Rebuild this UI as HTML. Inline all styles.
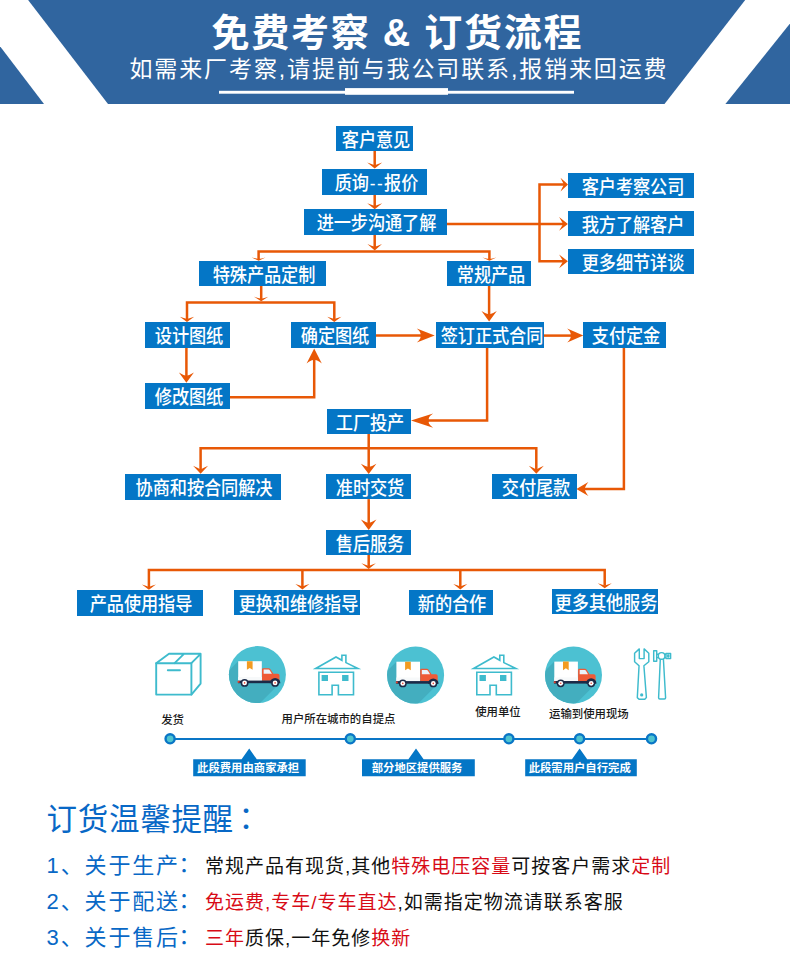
<!DOCTYPE html>
<html lang="zh-CN"><head><meta charset="utf-8"><title>免费考察 &amp; 订货流程</title>
<style>
html,body{margin:0;padding:0;background:#fff}
body{width:790px;height:961px;position:relative;overflow:hidden;font-family:"Liberation Sans","Noto Sans CJK SC",sans-serif}
#bg{position:absolute;left:0;top:0}
.h1{position:absolute;left:2.3px;width:790px;top:9px;text-align:center;color:#fff;font-weight:bold;font-size:38px;line-height:48px;letter-spacing:1.75px;white-space:nowrap}
.h2{position:absolute;left:0;width:798px;top:53.5px;text-align:center;color:#fff;font-size:23px;line-height:30px;letter-spacing:1.88px;white-space:nowrap}
.b{position:absolute;background:#0476c6;color:#fff;font-size:19.1px;white-space:nowrap;overflow:visible;display:flex;justify-content:center}
.b span{display:block;flex:none;transform:scaleX(0.9);letter-spacing:-0.1px;font-weight:500;position:relative;left:1.5px}
.b i{font-style:normal;letter-spacing:1.6px;margin-left:1px}
.lb{position:absolute;top:760.4px;height:17px;line-height:16.5px;color:#fff;font-weight:bold;font-size:11.35px;text-align:center;white-space:nowrap;margin-left:-1.3px}
.ic{position:absolute;color:#1a1a1a;font-weight:500;font-size:11.4px;line-height:14px;white-space:nowrap}
.t0{position:absolute;left:46.6px;top:798px;color:#0868c6;font-size:30.5px;line-height:42px;white-space:nowrap;letter-spacing:0.7px}
.t0 .c{margin-left:-3px}
.ln{position:absolute;left:46.6px;white-space:nowrap;height:30px;line-height:30px}
.ln .k{color:#0868c6;font-size:22px;letter-spacing:1.85px;display:inline-block;width:158.4px;vertical-align:baseline}
.ln .v{color:#111;font-size:19px;letter-spacing:1px}
.ln .r{color:#d80b17}
.c{font-family:"Liberation Sans","Noto Sans CJK JP",sans-serif}
.k .c{margin-left:-7px}
</style></head><body>
<svg id="bg" width="790" height="961" viewBox="0 0 790 961">
<rect x="0" y="0" width="790" height="104" fill="#30659f"/>
<polygon points="0,0 28.1,0 108,104 44,104 0,46.3" fill="#fff"/>
<polygon points="745.2,0 790,0 790,23.5 725.4,104 664.5,104" fill="#fff"/>
<rect x="219" y="90.8" width="355" height="2.9" fill="#fff"/>
<rect x="345" y="88.1" width="103" height="6.7" fill="#fff"/>
<polyline points="374.7,151.0 374.7,166.0" fill="none" stroke="#e85806" stroke-width="2.5" stroke-linejoin="miter"/>
<path d="M374.7 168.6 L367.2 162.5 Q371.8 164.2 374.7 165.2 Q377.6 164.2 382.2 162.5 Z" fill="#e85806"/>
<polyline points="374.7,194.3 374.7,207.0" fill="none" stroke="#e85806" stroke-width="2.5" stroke-linejoin="miter"/>
<path d="M374.7 209.3 L367.2 203.2 Q371.8 204.9 374.7 205.9 Q377.6 204.9 382.2 203.2 Z" fill="#e85806"/>
<polyline points="374.7,234.5 374.7,248.0" fill="none" stroke="#e85806" stroke-width="2.5" stroke-linejoin="miter"/>
<path d="M374.7 250.4 L367.4 243.9 Q371.9 245.7 374.7 246.8 Q377.5 245.7 382.0 243.9 Z" fill="#e85806"/>
<polyline points="258.6,259.0 258.6,251.6 489.4,251.6 489.4,259.0" fill="none" stroke="#e85806" stroke-width="2.5" stroke-linejoin="miter"/>
<path d="M258.6 260.8 L251.7 257.4 Q256.0 258.4 258.6 258.9 Q261.2 258.4 265.5 257.4 Z" fill="#e85806"/>
<path d="M489.4 260.8 L482.5 257.4 Q486.8 258.4 489.4 258.9 Q492.0 258.4 496.3 257.4 Z" fill="#e85806"/>
<polyline points="446.3,223.9 564.0,223.9" fill="none" stroke="#e85806" stroke-width="2.5" stroke-linejoin="miter"/>
<path d="M567.9 223.9 L559.1 217.1 Q561.6 221.3 563.1 223.9 Q561.6 226.5 559.1 230.8 Z" fill="#e85806"/>
<polyline points="564.0,184.6 539.5,184.6 539.5,261.3 564.0,261.3" fill="none" stroke="#e85806" stroke-width="2.5" stroke-linejoin="miter"/>
<path d="M568.0 184.6 L560.5 177.8 Q562.6 182.0 563.9 184.6 Q562.6 187.2 560.5 191.4 Z" fill="#e85806"/>
<path d="M567.9 261.3 L559.1 254.5 Q561.6 258.7 563.1 261.3 Q561.6 263.9 559.1 268.2 Z" fill="#e85806"/>
<polyline points="261.2,286.0 261.2,299.5" fill="none" stroke="#e85806" stroke-width="2.5" stroke-linejoin="miter"/>
<path d="M261.2 301.3 L254.1 296.8 Q258.5 298.1 261.2 298.8 Q263.9 298.1 268.3 296.8 Z" fill="#e85806"/>
<polyline points="187.0,319.5 187.0,302.6 334.3,302.6 334.3,319.5" fill="none" stroke="#e85806" stroke-width="2.5" stroke-linejoin="miter"/>
<path d="M187.0 322.0 L179.8 316.7 Q184.3 318.2 187.0 319.1 Q189.7 318.2 194.2 316.7 Z" fill="#e85806"/>
<path d="M334.3 322.0 L327.2 316.7 Q331.6 318.2 334.3 319.1 Q337.0 318.2 341.4 316.7 Z" fill="#e85806"/>
<polyline points="186.4,347.6 186.4,378.0" fill="none" stroke="#e85806" stroke-width="2.5" stroke-linejoin="miter"/>
<path d="M186.4 382.8 L178.9 372.4 Q183.6 375.3 186.4 375.8 Q189.2 375.3 193.9 372.4 Z" fill="#e85806"/>
<polyline points="230.0,397.2 314.2,397.2 314.2,356.0" fill="none" stroke="#e85806" stroke-width="2.5" stroke-linejoin="miter"/>
<path d="M314.2 348.5 L306.6 363.5 Q311.3 359.3 314.2 360.0 Q317.1 359.3 321.8 363.5 Z" fill="#e85806"/>
<polyline points="375.3,335.5 422.0,335.5" fill="none" stroke="#e85806" stroke-width="2.5" stroke-linejoin="miter"/>
<path d="M434.7 335.6 L416.8 328.6 Q421.8 332.9 420.3 335.6 Q421.8 338.3 416.8 342.6 Z" fill="#e85806"/>
<polyline points="489.1,286.0 489.1,316.0" fill="none" stroke="#e85806" stroke-width="2.5" stroke-linejoin="miter"/>
<path d="M489.1 321.6 L481.5 311.0 Q486.2 314.0 489.1 314.6 Q492.0 314.0 496.8 311.0 Z" fill="#e85806"/>
<polyline points="543.5,335.6 572.0,335.6" fill="none" stroke="#e85806" stroke-width="2.5" stroke-linejoin="miter"/>
<path d="M583.3 335.6 L567.2 328.6 Q571.7 332.9 570.5 335.6 Q571.7 338.3 567.2 342.6 Z" fill="#e85806"/>
<polyline points="487.1,347.6 487.1,420.6 428.0,420.6" fill="none" stroke="#e85806" stroke-width="2.5" stroke-linejoin="miter"/>
<path d="M411.0 420.6 L433.1 413.5 Q426.9 417.9 429.3 420.6 Q426.9 423.3 433.1 427.7 Z" fill="#e85806"/>
<polyline points="623.9,347.3 623.9,489.1 584.0,489.1" fill="none" stroke="#e85806" stroke-width="2.5" stroke-linejoin="miter"/>
<path d="M576.4 489.1 L588.4 482.1 Q585.0 486.4 584.8 489.1 Q585.0 491.8 588.4 496.1 Z" fill="#e85806"/>
<polyline points="368.7,433.9 368.7,469.0" fill="none" stroke="#e85806" stroke-width="2.5" stroke-linejoin="miter"/>
<path d="M368.7 474.1 L360.9 463.8 Q365.8 466.7 368.7 467.1 Q371.6 466.7 376.4 463.8 Z" fill="#e85806"/>
<polyline points="200.6,470.0 200.6,448.2 536.3,448.2 536.3,470.0" fill="none" stroke="#e85806" stroke-width="2.5" stroke-linejoin="miter"/>
<path d="M200.6 473.8 L193.1 465.8 Q197.8 468.0 200.6 469.4 Q203.4 468.0 208.1 465.8 Z" fill="#e85806"/>
<path d="M536.3 473.8 L528.8 465.8 Q533.4 468.0 536.3 469.4 Q539.1 468.0 543.8 465.8 Z" fill="#e85806"/>
<polyline points="368.7,499.1 368.7,525.0" fill="none" stroke="#e85806" stroke-width="2.5" stroke-linejoin="miter"/>
<path d="M368.7 529.9 L360.9 519.6 Q365.8 522.5 368.7 522.9 Q371.6 522.5 376.4 519.6 Z" fill="#e85806"/>
<polyline points="368.7,554.8 368.7,566.5" fill="none" stroke="#e85806" stroke-width="2.5" stroke-linejoin="miter"/>
<path d="M368.7 569.0 L361.4 563.3 Q365.9 564.9 368.7 565.9 Q371.5 564.9 375.9 563.3 Z" fill="#e85806"/>
<polyline points="148.9,587.3 148.9,570.1 604.7,570.1 604.7,585.8" fill="none" stroke="#e85806" stroke-width="2.5" stroke-linejoin="miter"/>
<path d="M148.9 589.8 L141.9 584.6 Q146.2 586.1 148.9 586.9 Q151.6 586.1 155.9 584.6 Z" fill="#e85806"/>
<path d="M604.7 588.3 L597.7 583.3 Q602.0 584.7 604.7 585.5 Q607.4 584.7 611.8 583.3 Z" fill="#e85806"/>
<polyline points="302.4,570.1 302.4,587.0" fill="none" stroke="#e85806" stroke-width="2.5" stroke-linejoin="miter"/>
<path d="M302.4 589.5 L295.4 584.1 Q299.7 585.6 302.4 586.5 Q305.1 585.6 309.4 584.1 Z" fill="#e85806"/>
<polyline points="460.3,570.1 460.3,587.0" fill="none" stroke="#e85806" stroke-width="2.5" stroke-linejoin="miter"/>
<path d="M460.3 589.5 L453.3 584.1 Q457.6 585.6 460.3 586.5 Q463.0 585.6 467.3 584.1 Z" fill="#e85806"/>
<g fill="none" stroke="#3ebbcd" stroke-width="1.9" stroke-linejoin="round" stroke-linecap="round"><rect x="156.2" y="663.2" width="35.2" height="31.4"/><path d="M156.2 663.2L169 653.8H200.6L191.4 663.2M200.6 653.8V683.6L191.4 694.6M174.6 663.2L184 653.8M167.8 670.2H180"/></g>
<g transform="translate(0.0 0.0)"><clipPath id="tc1"><circle cx="257.4" cy="674.6" r="28.5"/></clipPath><circle cx="257.4" cy="674.6" r="28.5" fill="#4cc1d2"/><polygon clip-path="url(#tc1)" points="238.2,661.2 178.2,721.2 220.6,742.5 280.6,682.5 262,670" fill="#43aebf"/><rect x="238.2" y="661.2" width="23.6" height="19.6" fill="#fff"/><rect x="238.2" y="677" width="23.6" height="3.8" fill="#f7f9fa"/><path d="M246.9 661.2h5.7v8.6l-2.85-1.9-2.85 1.9z" fill="#f39b21"/><path d="M262 680.8V669.4q0-1.1 1.1-1.1h5.6q1 0 1.7 0.9l3 4.6h4.3q1.8 0 1.8 1.8v5.2z" fill="#ee5a36"/><path d="M263.6 669.6h5q0.7 0 1.1 0.6l2.2 3.6h-8.3z" fill="#eaf3fa"/><rect x="238" y="680.6" width="41.6" height="2.6" fill="#1c2a47"/><rect x="237.6" y="681" width="2" height="1.8" fill="#e8432e"/><path d="M269.8 683.2a5.3 5.3 0 0 1 10.6 0z" fill="#1c2a47"/><circle cx="244.6" cy="682.9" r="3.9" fill="#1c2a47"/><circle cx="244.6" cy="682.9" r="2.4" fill="#fff"/><circle cx="244.6" cy="682.9" r="0.8" fill="#e8432e"/><circle cx="275.1" cy="682.9" r="3.9" fill="#1c2a47"/><circle cx="275.1" cy="682.9" r="2.4" fill="#fff"/><circle cx="275.1" cy="682.9" r="0.8" fill="#e8432e"/></g>
<g transform="translate(158.2 0.5)"><clipPath id="tc2"><circle cx="257.4" cy="674.6" r="28.5"/></clipPath><circle cx="257.4" cy="674.6" r="28.5" fill="#4cc1d2"/><polygon clip-path="url(#tc2)" points="238.2,661.2 178.2,721.2 220.6,742.5 280.6,682.5 262,670" fill="#43aebf"/><rect x="238.2" y="661.2" width="23.6" height="19.6" fill="#fff"/><rect x="238.2" y="677" width="23.6" height="3.8" fill="#f7f9fa"/><path d="M246.9 661.2h5.7v8.6l-2.85-1.9-2.85 1.9z" fill="#f39b21"/><path d="M262 680.8V669.4q0-1.1 1.1-1.1h5.6q1 0 1.7 0.9l3 4.6h4.3q1.8 0 1.8 1.8v5.2z" fill="#ee5a36"/><path d="M263.6 669.6h5q0.7 0 1.1 0.6l2.2 3.6h-8.3z" fill="#eaf3fa"/><rect x="238" y="680.6" width="41.6" height="2.6" fill="#1c2a47"/><rect x="237.6" y="681" width="2" height="1.8" fill="#e8432e"/><path d="M269.8 683.2a5.3 5.3 0 0 1 10.6 0z" fill="#1c2a47"/><circle cx="244.6" cy="682.9" r="3.9" fill="#1c2a47"/><circle cx="244.6" cy="682.9" r="2.4" fill="#fff"/><circle cx="244.6" cy="682.9" r="0.8" fill="#e8432e"/><circle cx="275.1" cy="682.9" r="3.9" fill="#1c2a47"/><circle cx="275.1" cy="682.9" r="2.4" fill="#fff"/><circle cx="275.1" cy="682.9" r="0.8" fill="#e8432e"/></g>
<g transform="translate(316.1 0.4)"><clipPath id="tc3"><circle cx="257.4" cy="674.6" r="28.5"/></clipPath><circle cx="257.4" cy="674.6" r="28.5" fill="#4cc1d2"/><polygon clip-path="url(#tc3)" points="238.2,661.2 178.2,721.2 220.6,742.5 280.6,682.5 262,670" fill="#43aebf"/><rect x="238.2" y="661.2" width="23.6" height="19.6" fill="#fff"/><rect x="238.2" y="677" width="23.6" height="3.8" fill="#f7f9fa"/><path d="M246.9 661.2h5.7v8.6l-2.85-1.9-2.85 1.9z" fill="#f39b21"/><path d="M262 680.8V669.4q0-1.1 1.1-1.1h5.6q1 0 1.7 0.9l3 4.6h4.3q1.8 0 1.8 1.8v5.2z" fill="#ee5a36"/><path d="M263.6 669.6h5q0.7 0 1.1 0.6l2.2 3.6h-8.3z" fill="#eaf3fa"/><rect x="238" y="680.6" width="41.6" height="2.6" fill="#1c2a47"/><rect x="237.6" y="681" width="2" height="1.8" fill="#e8432e"/><path d="M269.8 683.2a5.3 5.3 0 0 1 10.6 0z" fill="#1c2a47"/><circle cx="244.6" cy="682.9" r="3.9" fill="#1c2a47"/><circle cx="244.6" cy="682.9" r="2.4" fill="#fff"/><circle cx="244.6" cy="682.9" r="0.8" fill="#e8432e"/><circle cx="275.1" cy="682.9" r="3.9" fill="#1c2a47"/><circle cx="275.1" cy="682.9" r="2.4" fill="#fff"/><circle cx="275.1" cy="682.9" r="0.8" fill="#e8432e"/></g>
<g transform="translate(0.0 0)" fill="none" stroke="#3ebbcd" stroke-width="1.6" stroke-linejoin="miter" stroke-miterlimit="10"><path d="M315.7 668.5L336 657 341.9 660.3V655.2H345.9V662.6L357.9 668.5Z"/><path d="M318.9 672.2H353.5V694.8H338.4V685.3H332.1V694.8H318.9Z"/><rect x="321.6" y="675" width="6.4" height="6" fill="#3ebbcd" stroke="none"/><rect x="342.1" y="675" width="6.4" height="6" fill="#3ebbcd" stroke="none"/></g>
<g transform="translate(157.9 0)" fill="none" stroke="#3ebbcd" stroke-width="1.6" stroke-linejoin="miter" stroke-miterlimit="10"><path d="M315.7 668.5L336 657 341.9 660.3V655.2H345.9V662.6L357.9 668.5Z"/><path d="M318.9 672.2H353.5V694.8H338.4V685.3H332.1V694.8H318.9Z"/><rect x="321.6" y="675" width="6.4" height="6" fill="#3ebbcd" stroke="none"/><rect x="342.1" y="675" width="6.4" height="6" fill="#3ebbcd" stroke="none"/></g>
<g fill="none" stroke="#3ebbcd" stroke-width="1.45" stroke-linejoin="round"><path d="M639.3 648.9L634.6 653.3V661.7L639.05 665.7 637.3 697.6 639.05 699.2H644.8L646.4 697.6 643.9 665.7 648.8 661.7V653.3L644.1 648.9V658.6H639.3Z"/><circle cx="641.7" cy="694.9" r="0.9" fill="#3ebbcd"/><rect x="653.7" y="650.8" width="3" height="10.4"/><circle cx="661.6" cy="655.9" r="3.3"/><path d="M656.7 654.3H658.4M656.7 657.6H658.4M664.8 654.3H666M664.8 657.6H666"/><rect x="666" y="653.4" width="4.6" height="5.2"/><rect x="667.8" y="654.9" width="1" height="2.2"/><path d="M660.3 659L658.6 697.8Q658.6 699 659.8 699H664.4Q665.6 699 665.6 697.8L663.4 659"/></g>
<line x1="170" y1="739" x2="651.5" y2="739" stroke="#0a76c6" stroke-width="2"/>
<circle cx="170.1" cy="738.8" r="4.55" fill="#4fc4cf" stroke="#0a76c6" stroke-width="2.4"/>
<circle cx="350.3" cy="738.8" r="4.55" fill="#4fc4cf" stroke="#0a76c6" stroke-width="2.4"/>
<circle cx="508.9" cy="738.8" r="4.55" fill="#4fc4cf" stroke="#0a76c6" stroke-width="2.4"/>
<circle cx="579.6" cy="738.8" r="4.55" fill="#4fc4cf" stroke="#0a76c6" stroke-width="2.4"/>
<circle cx="651.5" cy="738.8" r="4.55" fill="#4fc4cf" stroke="#0a76c6" stroke-width="2.4"/>
<path d="M193.2 759.3H241.6L249.2 748.4 256.8 759.3H305.7V776.3H193.2Z" fill="#0476c6"/>
<path d="M362.0 759.3H408.4L416.0 748.4 423.6 759.3H474.8V776.3H362.0Z" fill="#0476c6"/>
<path d="M525.2 759.3H572.0L579.6 748.4 587.2 759.3H636.8V776.3H525.2Z" fill="#0476c6"/>
</svg>
<div class="h1">免费考察 &amp; 订货流程</div>
<div class="h2">如需来厂考察,请提前与我公司联系,报销来回运费</div>
<div class="b" style="left:335.9px;top:125.9px;width:77.5px;height:25.5px;line-height:29.7px"><span>客户意见</span></div>
<div class="b" style="left:321.9px;top:169.2px;width:105.5px;height:25.5px;line-height:29.7px"><span>质询<i>--</i>报价</span></div>
<div class="b" style="left:303.9px;top:209.4px;width:142.8px;height:25.5px;line-height:29.7px"><span>进一步沟通了解</span></div>
<div class="b" style="left:568.0px;top:172.7px;width:126.3px;height:25.5px;line-height:29.7px"><span>客户考察公司</span></div>
<div class="b" style="left:568.0px;top:210.7px;width:126.3px;height:25.2px;line-height:29.4px"><span>我方了解客户</span></div>
<div class="b" style="left:568.0px;top:249.1px;width:126.3px;height:25.2px;line-height:29.4px"><span>更多细节详谈</span></div>
<div class="b" style="left:199.0px;top:260.9px;width:126.7px;height:25.5px;line-height:29.7px"><span>特殊产品定制</span></div>
<div class="b" style="left:447.1px;top:260.9px;width:84.3px;height:25.5px;line-height:29.7px"><span>常规产品</span></div>
<div class="b" style="left:145.4px;top:322.2px;width:84.9px;height:25.8px;line-height:30.0px"><span>设计图纸</span></div>
<div class="b" style="left:290.7px;top:322.2px;width:85.0px;height:25.9px;line-height:30.1px"><span>确定图纸</span></div>
<div class="b" style="left:436.4px;top:321.7px;width:107.5px;height:26.3px;line-height:30.5px"><span>签订正式合同</span></div>
<div class="b" style="left:583.1px;top:322.2px;width:83.3px;height:25.5px;line-height:29.7px"><span>支付定金</span></div>
<div class="b" style="left:145.4px;top:383.4px;width:84.9px;height:25.4px;line-height:29.6px"><span>修改图纸</span></div>
<div class="b" style="left:326.6px;top:409.0px;width:84.6px;height:25.3px;line-height:29.5px"><span>工厂投产</span></div>
<div class="b" style="left:124.6px;top:473.9px;width:156.7px;height:26.3px;line-height:30.5px"><span>协商和按合同解决</span></div>
<div class="b" style="left:326.2px;top:474.2px;width:85.1px;height:25.3px;line-height:29.5px"><span>准时交货</span></div>
<div class="b" style="left:492.1px;top:474.2px;width:84.6px;height:25.3px;line-height:29.5px"><span>交付尾款</span></div>
<div class="b" style="left:326.2px;top:529.9px;width:85.1px;height:25.3px;line-height:29.5px"><span>售后服务</span></div>
<div class="b" style="left:77.0px;top:590.0px;width:125.8px;height:25.6px;line-height:29.8px"><span>产品使用指导</span></div>
<div class="b" style="left:234.0px;top:589.9px;width:126.0px;height:25.5px;line-height:29.7px"><span>更换和维修指导</span></div>
<div class="b" style="left:408.5px;top:589.9px;width:84.8px;height:25.5px;line-height:29.7px"><span>新的合作</span></div>
<div class="b" style="left:551.9px;top:588.8px;width:106.1px;height:25.1px;line-height:29.3px"><span>更多其他服务</span></div>
<div class="lb" style="left:193.2px;width:112.5px">此段费用由商家承担</div>
<div class="lb" style="left:362.0px;width:112.8px">部分地区提供服务</div>
<div class="lb" style="left:525.2px;width:111.6px">此段需用户自行完成</div>
<div class="ic" style="left:161.2px;top:712.6px">发货</div>
<div class="ic" style="left:281.5px;top:711.5px">用户所在城市的自提点</div>
<div class="ic" style="left:475.2px;top:704.5px">使用单位</div>
<div class="ic" style="left:549px;top:706.7px">运输到使用现场</div>
<div class="t0">订货温馨提醒<span class="c" lang="ja">：</span></div>
<div class="ln" style="top:850.7px"><span class="k">1、关于生产<span class="c" lang="ja">：</span></span><span class="v">常规产品有现货,其他<span class="r">特殊电压容量</span>可按客户需求<span class="r">定制</span></span></div>
<div class="ln" style="top:887.4px"><span class="k">2、关于配送<span class="c" lang="ja">：</span></span><span class="v"><span class="r">免运费,专车/专车直达</span>,如需指定物流请联系客服</span></div>
<div class="ln" style="top:923.4px"><span class="k">3、关于售后<span class="c" lang="ja">：</span></span><span class="v"><span class="r">三年</span>质保,一年免修<span class="r">换新</span></span></div>
</body></html>
